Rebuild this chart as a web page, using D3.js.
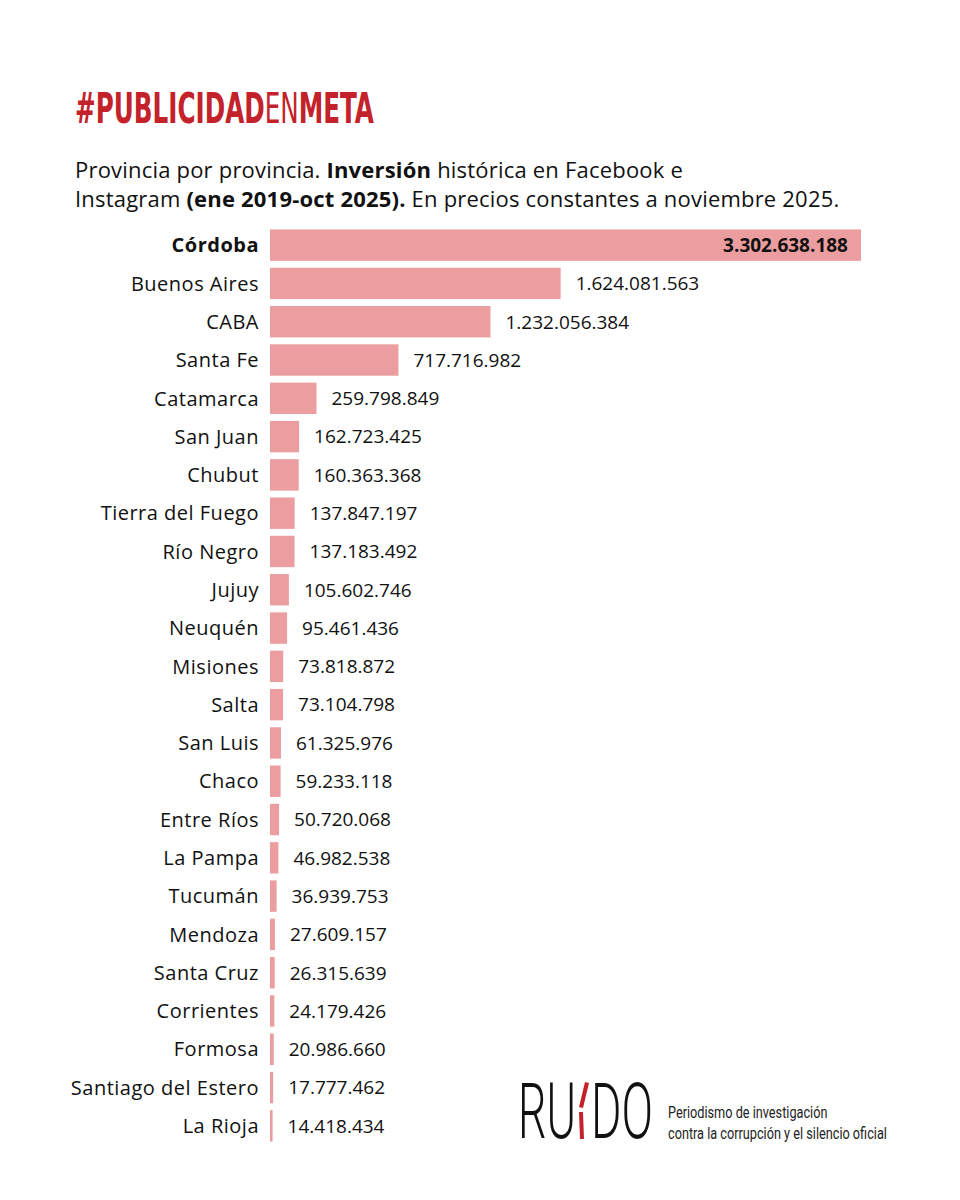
<!DOCTYPE html>
<html>
<head>
<meta charset="utf-8">
<script src="https://cdn.jsdelivr.net/npm/d3@7"></script>
<style>
  body { margin: 0; background: #fff; }
  svg { display: block; }
</style>
</head>
<body>
<script>
// Datos: inversión histórica por provincia (ene 2019 - oct 2025), pesos constantes nov 2025
const provincias = ["Córdoba", "Buenos Aires", "CABA", "Santa Fe", "Catamarca", "San Juan", "Chubut",
  "Tierra del Fuego", "Río Negro", "Jujuy", "Neuquén", "Misiones", "Salta", "San Luis", "Chaco",
  "Entre Ríos", "La Pampa", "Tucumán", "Mendoza", "Santa Cruz", "Corrientes", "Formosa",
  "Santiago del Estero", "La Rioja"];
const inversion = [3302638188, 1624081563, 1232056384, 717716982, 259798849, 162723425, 160363368,
  137847197, 137183492, 105602746, 95461436, 73818872, 73104798, 61325976, 59233118,
  50720068, 46982538, 36939753, 27609157, 26315639, 24179426, 20986660,
  17777462, 14418434];

const data = provincias.map((p, i) => ({ name: p, value: inversion[i] }));

const width = 960, height = 1200;
const barColor = "#eb9d9f";
const red = "#c4222b";
const labelFont = "'Open Sans', 'Noto Sans', sans-serif";

const svg = d3.select("body").append("svg")
    .attr("width", width)
    .attr("height", height);

// Título
const title = svg.append("text")
    .attr("x", 0)
    .attr("y", 0)
    .attr("fill", red)
    .style("font-family", "'DejaVu Sans Condensed', 'DejaVu Sans', sans-serif")
    .style("font-size", "42px")
    .style("font-weight", "bold");
title.append("tspan").text("#PUBLICIDAD");
title.append("tspan").style("font-weight", "normal").text("EN");
title.append("tspan").text("META");
const tw = title.node().getComputedTextLength();
title.attr("transform", `translate(75,123) scale(${299 / tw},1)`);

// Subtítulo
const sub = svg.append("text")
    .attr("x", 75)
    .style("font-family", labelFont)
    .style("font-size", "22px")
    .style("letter-spacing", "0.2px")
    .attr("fill", "#111");
const l1 = sub.append("tspan").attr("x", 75).attr("y", 178);
l1.append("tspan").text("Provincia por provincia. ");
l1.append("tspan").style("font-weight", "bold").text("Inversión");
l1.append("tspan").text(" histórica en Facebook e");
const l2 = sub.append("tspan").attr("x", 75).attr("y", 207);
l2.append("tspan").text("Instagram ");
l2.append("tspan").style("font-weight", "bold").text("(ene 2019-oct 2025).");
l2.append("tspan").text(" En precios constantes a noviembre 2025.");

// Escalas
const x = d3.scaleLinear()
    .domain([0, d3.max(inversion)])
    .range([270, 861]);

const y = d3.scaleBand()
    .domain(provincias)
    .range([226, 1145])
    .paddingInner(0.18)
    .paddingOuter(0.09);

const fmt = d3.formatLocale({ decimal: ",", thousands: ".", grouping: [3], currency: ["$", ""] }).format(",d");

// Barras
svg.append("g")
  .selectAll("rect")
  .data(data)
  .join("rect")
    .attr("x", x(0))
    .attr("y", d => y(d.name))
    .attr("width", d => x(d.value) - x(0))
    .attr("height", y.bandwidth())
    .attr("fill", barColor);

// Etiquetas de provincia
svg.append("g")
  .selectAll("text")
  .data(data)
  .join("text")
    .attr("x", 259)
    .attr("y", d => y(d.name) + y.bandwidth() / 2)
    .attr("dy", "0.36em")
    .attr("text-anchor", "end")
    .style("font-family", labelFont)
    .style("font-size", "20px")
    .style("letter-spacing", "0.5px")
    .style("font-weight", (d, i) => i === 0 ? "bold" : "normal")
    .attr("fill", "#111")
    .text(d => d.name);

// Valores
svg.append("g")
  .selectAll("text")
  .data(data)
  .join("text")
    .attr("x", (d, i) => i === 0 ? x(d.value) - 13 : x(d.value) + 15)
    .attr("y", d => y(d.name) + y.bandwidth() / 2)
    .attr("dy", "0.36em")
    .attr("text-anchor", (d, i) => i === 0 ? "end" : "start")
    .style("font-family", labelFont)
    .style("font-size", "19px")
    .style("font-weight", (d, i) => i === 0 ? "bold" : "normal")
    .attr("fill", "#111")
    .text(d => fmt(d.value));

// Logo RUIDO
const logo = svg.append("g");
const ru = logo.append("text")
    .style("font-family", "Roboto, sans-serif")
    .style("font-weight", 300)
    .style("font-size", "77px")
    .attr("fill", "#111")
    .text("RU");
const ruW = ru.node().getComputedTextLength();
ru.attr("transform", `translate(518,1138) scale(${58 / ruW},1)`);
const dd = logo.append("text")
    .style("font-family", "Roboto, sans-serif")
    .style("font-weight", 300)
    .style("font-size", "77px")
    .attr("fill", "#111")
    .text("DO");
const ddW = dd.node().getComputedTextLength();
dd.attr("transform", `translate(591,1138) scale(${62 / ddW},1)`);
// la "I" roja partida
logo.append("path")
    .attr("d", "M585,1082 L589,1083 L583,1108 L579,1107 Z M579,1112 L583,1112 L584,1139 L580,1139 Z")
    .attr("fill", red);

const tag = logo.append("text")
    .style("font-family", "Roboto, sans-serif")
    .style("font-size", "16.5px")
    .attr("fill", "#222");
tag.append("tspan").attr("x", 0).attr("y", 0).text("Periodismo de investigación");
tag.append("tspan").attr("x", 0).attr("y", 21).text("contra la corrupción y el silencio oficial");
const tagW = tag.select("tspan:last-child").node().getComputedTextLength();
tag.attr("transform", `translate(668,1118) scale(${219 / tagW},1)`);
</script>
</body>
</html>
